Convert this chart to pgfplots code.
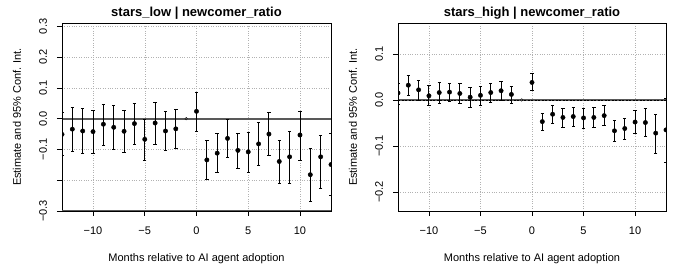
\documentclass[border=0pt]{standalone}
\usepackage{fontspec}
\setmainfont{Liberation Sans}
\usepackage{pgfplots}
\usepackage{pgfplotstable}
\pgfplotsset{compat=1.18}

\pgfplotstableread{
x y lo hi
-13 -0.051 -0.120 0.022
-12 -0.034 -0.105 0.037
-11 -0.040 -0.114 0.032
-10 -0.042 -0.112 0.026
-9 -0.018 -0.087 0.047
-8 -0.028 -0.100 0.042
-7 -0.041 -0.111 0.027
-6 -0.016 -0.083 0.050
-5 -0.067 -0.134 -0.001
-4 -0.014 -0.084 0.054
-3 -0.040 -0.104 0.025
-2 -0.033 -0.095 0.029
0 0.024 -0.041 0.086
1 -0.134 -0.198 -0.070
2 -0.112 -0.176 -0.047
3 -0.064 -0.126 -0.002
4 -0.103 -0.160 -0.047
5 -0.108 -0.173 -0.043
6 -0.082 -0.152 -0.013
7 -0.050 -0.120 0.020
8 -0.139 -0.210 -0.070
9 -0.124 -0.209 -0.040
10 -0.053 -0.134 0.025
11 -0.182 -0.270 -0.095
12 -0.124 -0.225 -0.054
13 -0.149 -0.250 -0.049
}\lowdata

\pgfplotstableread{
x y lo hi
-13 0.015 -0.009 0.036
-12 0.032 0.009 0.053
-11 0.022 0.000 0.043
-10 0.009 -0.012 0.031
-9 0.016 -0.007 0.038
-8 0.017 -0.004 0.036
-7 0.014 -0.007 0.035
-6 0.006 -0.016 0.027
-5 0.010 -0.012 0.030
-4 0.016 -0.006 0.036
-3 0.020 0.000 0.040
-2 0.012 -0.007 0.029
0 0.038 0.020 0.057
1 -0.047 -0.067 -0.029
2 -0.031 -0.051 -0.012
3 -0.038 -0.059 -0.018
4 -0.036 -0.057 -0.015
5 -0.039 -0.061 -0.018
6 -0.038 -0.059 -0.017
7 -0.034 -0.056 -0.012
8 -0.067 -0.089 -0.045
9 -0.062 -0.085 -0.040
10 -0.048 -0.072 -0.022
11 -0.049 -0.079 -0.019
12 -0.072 -0.115 -0.032
13 -0.065 -0.136 0.004
}\highdata

\newcommand{\fs}{\fontsize{11}{13}\selectfont}
\newcommand{\fst}{\fontsize{13}{15}\selectfont}

\pgfplotsset{
  myax/.style={
    scale only axis,
    height=188pt,
    xmin=-13, xmax=13,
    axis line style={black, line width=0.7pt},
    tick align=outside,
    major tick length=5pt,
    tick style={black, line width=0.6pt},
    xtick pos=bottom, ytick pos=left,
    xtick={-10,-5,0,5,10},
    xticklabels={−10,−5,0,5,10},
    grid=major,
    major grid style={dotted, gray!60, line width=0.5pt},
    font=\fs,
    title style={font=\bfseries\fst, at={(axis description cs:0.5,1)}, anchor=center, yshift=4pt},
    xlabel style={at={(axis description cs:0.5,0)}, anchor=center, yshift=-48pt},
    ylabel style={at={(axis description cs:0,0.5)}, anchor=center, yshift=45pt},
    xticklabel style={anchor=center, yshift=-15pt},
    yticklabel style={rotate=90, anchor=center, yshift=14pt},
    xlabel={Months relative to AI agent adoption},
    ylabel={Estimate and 95\% Conf. Int.},
    clip marker paths=true,
  },
  ebars/.style={
    black, only marks, mark=*, mark size=2.2pt,
    error bars/.cd, y dir=both, y explicit,
    error bar style={line width=0.9pt, black},
    error mark=|,
    error mark options={black, mark size=1.7pt, line width=0.7pt},
  }
}

\begin{document}
\begin{tikzpicture}
\useasboundingbox (0,0) rectangle (676pt,272pt);

\begin{axis}[myax,
  at={(62pt,61pt)}, anchor=south west,
  width=269pt,
  ymin=-0.3, ymax=0.311,
  ytick={-0.3,-0.2,-0.1,0,0.1,0.2,0.3},
  yticklabels={−0.3,,−0.1,0.0,0.1,0.2,0.3},
  title={stars\_low | newcomer\_ratio},
]
\addplot[gray!70!black, line width=1.8pt, forget plot] coordinates {(-13,0) (13,0)};
\addplot[gray!70!black, line width=1.8pt, forget plot] coordinates {(-13,-0.3) (13,-0.3)};
\addplot[ebars] table[x=x, y=y, y error plus expr=\thisrow{hi}-\thisrow{y}, y error minus expr=\thisrow{y}-\thisrow{lo}] {\lowdata};
\addplot[only marks, mark=*, mark size=1.3pt, mark options={fill=gray, draw=black, line width=0.4pt}] coordinates {(-1,0)};
\end{axis}

\begin{axis}[myax,
  at={(398pt,61pt)}, anchor=south west,
  width=268pt,
  ymin=-0.241, ymax=0.167,
  ytick={-0.2,-0.1,0,0.1},
  yticklabels={−0.2,−0.1,0.0,0.1},
  title={stars\_high | newcomer\_ratio},
]
\addplot[gray!70!black, line width=1.4pt, forget plot] coordinates {(-13,0) (13,0)};
\addplot[black, line width=0.7pt, dash pattern=on 2pt off 1.5pt, forget plot] coordinates {(-13,0) (13,0)};
\addplot[ebars] table[x=x, y=y, y error plus expr=\thisrow{hi}-\thisrow{y}, y error minus expr=\thisrow{y}-\thisrow{lo}] {\highdata};
\addplot[only marks, mark=*, mark size=1.3pt, mark options={fill=gray, draw=black, line width=0.4pt}] coordinates {(-1,0)};
\end{axis}
\end{tikzpicture}
\end{document}
